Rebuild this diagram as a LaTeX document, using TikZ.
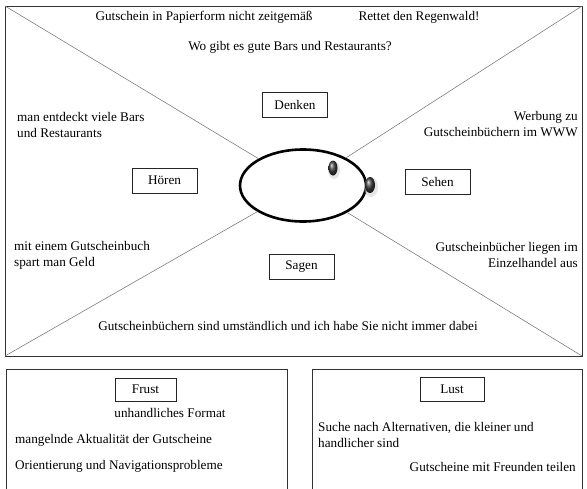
\documentclass[tikz,border=0pt]{standalone}
\usepackage{fontspec}
\setmainfont{Liberation Serif}
\usetikzlibrary{shapes.geometric}
\begin{document}
\begin{tikzpicture}[x=1pt,y=-1pt,
  txt/.style={font=\fontsize{13.2}{16}\selectfont, inner sep=0pt},
  lbl/.style={txt, draw=black!85, line width=0.8pt, minimum width=65pt, minimum height=25pt},
  frame/.style={draw=black!80, line width=1pt},
  diag/.style={draw=black!50, line width=0.6pt},
  dot/.style={ellipse, inner sep=0pt, shading=ball, ball color=black!75}]
\useasboundingbox (0,0) rectangle (587,488);
\clip (0,0) rectangle (587,488);
\fill[white] (0,0) rectangle (587,488);

% empathy map frame and its four corners
\coordinate (tl) at (5,6);
\coordinate (tr) at (582,6);
\coordinate (bl) at (5,356);
\coordinate (br) at (582,356);
\draw[frame] (tl) rectangle (br);

% centre head
\node[ellipse, draw=black, line width=2.6pt, minimum width=126pt, minimum height=72pt, inner sep=0pt] (head) at (303,185.5) {};
\draw[diag] (tl) -- (head);
\draw[diag] (tr) -- (head);
\draw[diag] (bl) -- (head);
\draw[diag] (br) -- (head);

% eye and ear
\fill[black!20, opacity=0.5] (334,170) ellipse (6pt and 9pt);
\node[dot, minimum width=9pt, minimum height=15pt] (eye) at (333,168) {};
\fill[black!20, opacity=0.5] (371,187) ellipse (7pt and 10pt);
\node[dot, minimum width=10pt, minimum height=16pt] (ear) at (370,185) {};

% quadrant labels
\node[lbl] (denken) at (295,105) {Denken};
\node[lbl] (hoeren) at (164.5,180.5) {Hören};
\node[lbl] (sehen) at (437.5,182) {Sehen};
\node[lbl] (sagen) at (301.5,266.5) {Sagen};

% thinking
\node[txt] (t1) at (204,17) {Gutschein in Papierform nicht zeitgemäß};
\node[txt] (t2) at (419,17) {Rettet den Regenwald!};
\node[txt] (t3) at (290,47) {Wo gibt es gute Bars und Restaurants?};

% hearing
\node[txt, anchor=west, align=left] (h1) at (17,125) {man entdeckt viele Bars\\und Restaurants};
\node[txt, anchor=west, align=left] (h2) at (14,255) {mit einem Gutscheinbuch\\spart man Geld};

% seeing
\node[txt, anchor=east, align=right] (s1) at (578,124.5) {Werbung zu\\Gutscheinbüchern im WWW};
\node[txt, anchor=east, align=right] (s2) at (578,255) {Gutscheinbücher liegen im\\Einzelhandel aus};

% saying
\node[txt] (g1) at (288,326) {Gutscheinbüchern sind umständlich und ich habe Sie nicht immer dabei};

% pain box
\coordinate (ftl) at (6,369);
\coordinate (fbr) at (287,500);
\draw[frame] (ftl) rectangle (fbr);
\node[lbl, minimum width=61pt, minimum height=23pt] (frust) at (145.5,389.5) {Frust};
\node[txt] (f1) at (170,413) {unhandliches Format};
\node[txt, anchor=west] (f2) at (15,440) {mangelnde Aktualität der Gutscheine};
\node[txt, anchor=west] (f3) at (15,466) {Orientierung und Navigationsprobleme};

% gain box
\coordinate (ltl) at (312,369);
\coordinate (lbr) at (582,500);
\draw[frame] (ltl) rectangle (lbr);
\node[lbl, minimum width=64pt, minimum height=24pt] (lust) at (452,389.5) {Lust};
\node[txt, anchor=west, align=left] (l1) at (318,435) {Suche nach Alternativen, die kleiner und\\handlicher sind};
\node[txt, anchor=east] (l2) at (576,467) {Gutscheine mit Freunden teilen};
\end{tikzpicture}
\end{document}
